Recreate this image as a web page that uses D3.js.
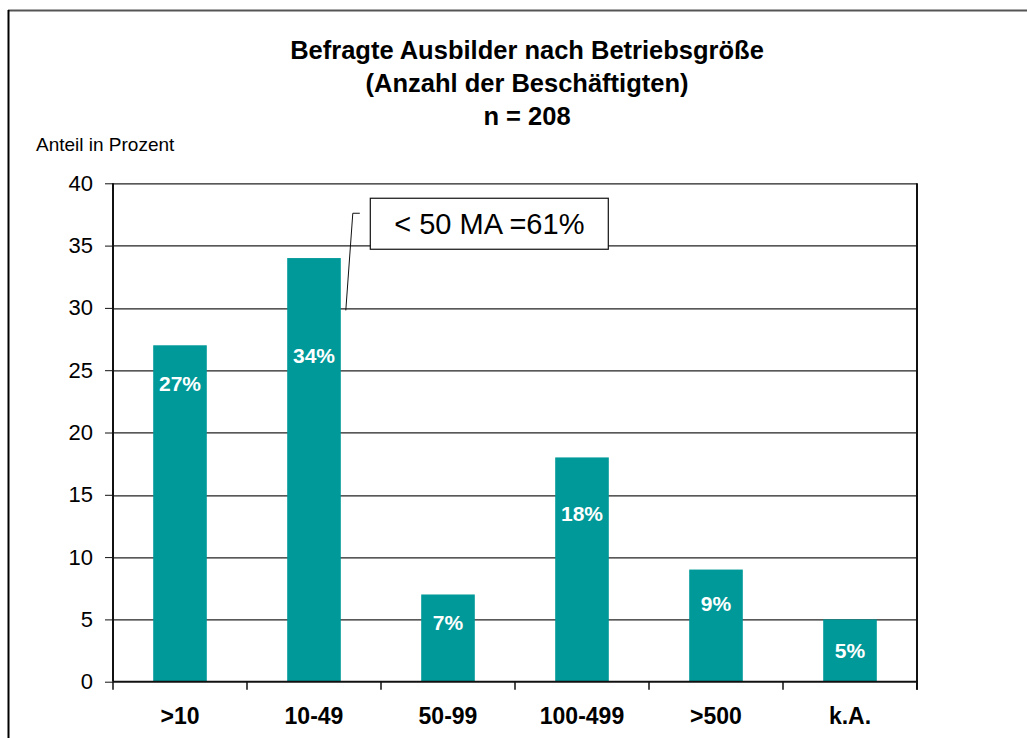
<!DOCTYPE html>
<html>
<head>
<meta charset="utf-8">
<script src="https://cdn.jsdelivr.net/npm/d3@7"></script>
<style>
  body { margin: 0; background: #fff; }
  svg { display: block; font-family: "Liberation Sans", Arial, sans-serif; }
</style>
</head>
<body>
<div id="chart"></div>
<script>
// data
var categories = [">10", "10-49", "50-99", "100-499", ">500", "k.A."];
var values = [27, 34, 7, 18, 9, 5];
var valueLabels = ["27%", "34%", "7%", "18%", "9%", "5%"];
var yTicks = [0, 5, 10, 15, 20, 25, 30, 35, 40];
var titleLines = ["Befragte Ausbilder nach Betriebsgröße", "(Anzahl der Beschäftigten)", "n = 208"];
var yAxisTitle = "Anteil in Prozent";
var note = "< 50 MA =61%";

// set the dimensions and margins of the graph
var W = 1027, H = 738;
var margin = { top: 183.3, right: 110, bottom: 56.3, left: 113 },
  width = W - margin.left - margin.right,
  height = H - margin.top - margin.bottom;

var barColor = "#009999";

// set the ranges
var x = d3.scaleBand().domain(categories).range([0, width])
  .paddingInner(0.6).paddingOuter(0.3);
var y = d3.scaleLinear().domain([0, 40]).range([height, 0]);

var svg = d3.select("#chart").append("svg")
  .attr("width", W)
  .attr("height", H);

// outer frame (only top and left edges visible)
svg.append("line")
  .attr("x1", 8).attr("x2", W).attr("y1", 10.5).attr("y2", 10.5)
  .style("stroke", "#555").style("stroke-width", 2);
svg.append("line")
  .attr("x1", 8.5).attr("x2", 8.5).attr("y1", 10).attr("y2", H)
  .style("stroke", "#000").style("stroke-width", 2);

// title
svg.append("g").selectAll("text")
  .data(titleLines)
  .enter().append("text")
  .attr("x", 527)
  .attr("y", function (d, i) { return 59 + i * 33; })
  .attr("text-anchor", "middle")
  .style("font-size", "25.5px")
  .style("font-weight", "bold")
  .text(function (d) { return d; });

svg.append("text")
  .attr("x", 36).attr("y", 151)
  .style("font-size", "19px")
  .text(yAxisTitle);

var g = svg.append("g")
  .attr("transform", "translate(" + margin.left + "," + margin.top + ")");

// gridlines
g.append("g").selectAll("line")
  .data(yTicks.filter(function (d) { return d > 0; }))
  .enter().append("line")
  .attr("x1", 0).attr("x2", width)
  .attr("y1", function (d) { return Math.round(y(d)) + 0.5; })
  .attr("y2", function (d) { return Math.round(y(d)) + 0.5; })
  .style("stroke", "#222").style("stroke-width", 1.2);

// bars
g.selectAll(".bar")
  .data(values)
  .enter().append("rect")
  .attr("class", "bar")
  .attr("x", function (d, i) { return x(categories[i]); })
  .attr("width", x.bandwidth())
  .attr("y", function (d) { return y(d); })
  .attr("height", function (d) { return height - y(d); })
  .style("fill", barColor);

// value labels (placed by hand in the original, offset from bar top)
var labelDy = [38, 98, 28, 56, 34, 31];
g.selectAll(".vlabel")
  .data(values)
  .enter().append("text")
  .attr("class", "vlabel")
  .attr("x", function (d, i) { return x(categories[i]) + x.bandwidth() / 2; })
  .attr("y", function (d, i) { return y(d) + labelDy[i]; })
  .attr("dy", "0.35em")
  .attr("text-anchor", "middle")
  .style("fill", "#fff")
  .style("font-size", "21px")
  .style("font-weight", "bold")
  .text(function (d, i) { return valueLabels[i]; });

// right border of plot
g.append("line")
  .attr("x1", width).attr("x2", width).attr("y1", 0).attr("y2", height + 8)
  .style("stroke", "#111").style("stroke-width", 2);

// Add the Y Axis
var yAxis = g.append("g")
  .call(d3.axisLeft(y).tickValues(yTicks).tickSize(8).tickPadding(12));
yAxis.select(".domain").style("stroke", "#111").style("stroke-width", 2)
  .attr("d", "M0," + height + "V0");
yAxis.selectAll(".tick line").style("stroke", "#111");
yAxis.selectAll("text")
  .style("font-size", "22px")
  .style("font-family", "'Liberation Sans', Arial, sans-serif")
  .style("fill", "#000");

// Add the X Axis (ticks sit on category boundaries)
var xAxis = g.append("g")
  .attr("transform", "translate(0," + height + ")");
xAxis.append("line")
  .attr("x1", 0).attr("x2", width)
  .style("stroke", "#111").style("stroke-width", 2);
var step = x.step();
xAxis.selectAll(".xtick")
  .data(d3.range(categories.length + 1))
  .enter().append("line")
  .attr("x1", function (d) { return d === categories.length ? width : x(categories[d]) - step * 0.3; })
  .attr("x2", function (d) { return d === categories.length ? width : x(categories[d]) - step * 0.3; })
  .attr("y1", 0).attr("y2", 8)
  .style("stroke", "#111").style("stroke-width", 1.5);
xAxis.selectAll(".xlabel")
  .data(categories)
  .enter().append("text")
  .attr("x", function (d) { return x(d) + x.bandwidth() / 2; })
  .attr("y", 42.5)
  .attr("text-anchor", "middle")
  .style("font-size", "23px")
  .style("font-weight", "bold")
  .text(function (d) { return d; });

// annotation box with leader line next to the 10-49 bar
var barRight = x("10-49") + x.bandwidth();
var boxTop = y(38.8);
g.append("polyline")
  .attr("points", [
    [barRight + 5, y(29.8)],
    [barRight + 12, boxTop + 15],
    [barRight + 19, boxTop + 15]
  ].map(function (p) { return p.join(","); }).join(" "))
  .style("fill", "none").style("stroke", "#111").style("stroke-width", 1);
g.append("rect")
  .attr("x", barRight + 29.5).attr("y", boxTop)
  .attr("width", 238).attr("height", 51)
  .style("fill", "#fff").style("stroke", "#111").style("stroke-width", 1.2);
g.append("text")
  .attr("x", barRight + 29.5 + 119).attr("y", boxTop + 36)
  .attr("text-anchor", "middle")
  .style("font-size", "29px")
  .text(note);
</script>
</body>
</html>
